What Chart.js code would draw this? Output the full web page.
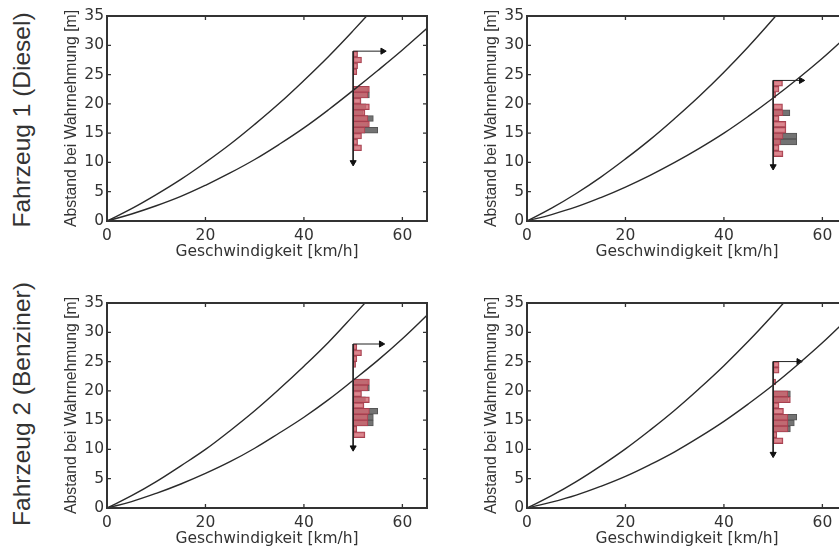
<!DOCTYPE html>
<html>
<head>
<meta charset="utf-8">
<script src="https://cdn.jsdelivr.net/npm/chart.js@4.4.1/dist/chart.umd.min.js"></script>
<style>
  body { margin: 0; width: 839px; height: 546px; overflow: hidden; background: #fff; position: relative; }
  .panel { position: absolute; }
  .rowlabel {
    position: absolute; white-space: nowrap; color: #333;
    font-family: "Liberation Sans", Arial, sans-serif; font-size: 24.5px;
    transform: translate(-50%, -50%) rotate(-90deg);
  }
</style>
</head>
<body>
<div class="rowlabel" style="left:22px; top:120px">Fahrzeug 1 (Diesel)</div>
<div class="rowlabel" style="left:22px; top:404px">Fahrzeug 2 (Benziner)</div>
<canvas class="panel" id="c1" width="387" height="270" style="left:50px; top:0px"></canvas>
<canvas class="panel" id="c2" width="387" height="270" style="left:470px; top:0px"></canvas>
<canvas class="panel" id="c3" width="387" height="270" style="left:50px; top:287px"></canvas>
<canvas class="panel" id="c4" width="387" height="270" style="left:470px; top:287px"></canvas>
<script>
// speeds [km/h] at which the curves were read
const speeds = [0, 5, 10, 15, 20, 25, 30, 35, 40, 45, 50, 55, 60, 65];
const xTicks = [0, 20, 40, 60];
const yTicks = [0, 5, 10, 15, 20, 25, 30, 35];

// distance curves [m]
const upper1 = [0, 2.1, 4.5, 7.1, 10.0, 13.1, 16.5, 20.1, 24.0, 28.1, 32.5, 37.1, 42, 47];
const lower1 = [0, 1.2, 2.6, 4.2, 6.1, 8.2, 10.5, 13.1, 15.9, 19.0, 22.3, 25.7, 29.2, 32.9];
const upper2 = [0, 2.2, 4.7, 7.5, 10.6, 13.9, 17.5, 21.3, 25.4, 29.8, 34.5, 39.4, 44, 49];
const lower2 = [0, 1.1, 2.4, 4.0, 5.8, 7.8, 10.0, 12.4, 15.0, 17.9, 21.0, 24.3, 27.8, 31.6];
const upper3 = [0, 2.1, 4.5, 7.2, 10.0, 13.2, 16.6, 20.3, 24.2, 28.3, 32.8, 37.4, 42, 47];
const lower3 = [0, 1.1, 2.5, 4.1, 5.9, 7.9, 10.2, 12.8, 15.5, 18.5, 21.8, 25.2, 28.9, 32.9];
const upper4 = [0, 2.1, 4.5, 7.2, 10.1, 13.3, 16.7, 20.4, 24.3, 28.5, 33.0, 37.7, 42, 47];
const lower4 = [0, 1.0, 2.2, 3.7, 5.4, 7.4, 9.6, 12.1, 14.8, 17.8, 21.0, 24.5, 28.2, 32.2];

// histogram bins (distance [m], 1 m wide) and bar lengths
const binCenters = [11.5, 12.5, 13.5, 14.5, 15.5, 16.5, 17.5, 18.5, 19.5, 20.5, 21.5, 22.5, 23.5, 24.5, 25.5, 26.5, 27.5, 28.5];
const red1  = [0, 1.7, 0.9, 1.7, 2.4, 3.3, 3.0, 2.4, 3.3, 1.6, 3.0, 3.3, 0, 0, 0.75, 0.9, 1.7, 0.9];
const gray1 = [0, 0, 0, 0, 5.0, 3.0, 4.1, 2.0, 2.6, 0, 3.3, 3.0, 0, 0, 0, 0, 0, 0];
const red2  = [2.0, 1.2, 1.5, 2.0, 2.6, 2.6, 1.2, 2.0, 1.9, 0, 0.5, 1.2, 1.9, 0, 0, 0, 0, 0];
const gray2 = [0, 0, 4.8, 4.8, 0, 0, 0, 3.4, 0, 0, 0, 0, 0, 0, 0, 0, 0, 0];
const red3  = [0, 2.4, 0.75, 3.0, 3.0, 3.3, 2.2, 3.3, 1.7, 3.0, 3.3, 0, 0, 0.5, 0.75, 1.7, 0.75, 0];
const gray3 = [0, 0, 0, 4.1, 4.1, 5.0, 0, 2.5, 0, 3.3, 3.0, 0, 0, 0, 0, 0, 0, 0];
const red4  = [2.0, 0.75, 3.0, 3.0, 3.0, 2.1, 1.2, 3.5, 3.0, 0, 0.5, 0, 1.2, 1.2, 0, 0, 0, 0];
const gray4 = [0, 0, 3.5, 4.3, 4.8, 0, 0, 3.0, 3.5, 0, 0, 0, 0, 0, 0, 0, 0, 0];

// histogram axis: [base speed, top, bottom arrow end, right arrow end]
const axis1 = [50, 29, 10.0, 56.0];
const axis2 = [50, 24, 9.3, 55.7];
const axis3 = [50, 28, 10.3, 55.7];
const axis4 = [50, 25, 9.2, 55.2];

const boxTicks = {
  id: 'boxTicks',
  afterDatasetsDraw(chart) {
    const { ctx, chartArea: a, scales: { x, y } } = chart;
    ctx.save();
    ctx.strokeStyle = '#333';
    ctx.lineWidth = 1.3;
    ctx.beginPath();
    x.ticks.forEach(t => {
      const px = x.getPixelForValue(t.value);
      ctx.moveTo(px, a.bottom); ctx.lineTo(px, a.bottom - 4);
      ctx.moveTo(px, a.top); ctx.lineTo(px, a.top + 4);
    });
    y.ticks.forEach(t => {
      const py = y.getPixelForValue(t.value);
      ctx.moveTo(a.left, py); ctx.lineTo(a.left + 4, py);
      ctx.moveTo(a.right, py); ctx.lineTo(a.right - 4, py);
    });
    ctx.stroke();
    ctx.lineWidth = 2;
    ctx.strokeRect(a.left, a.top, a.width, a.height);
    ctx.restore();
  }
};

function curve(vals) {
  return {
    type: 'line',
    data: speeds.map((v, i) => ({ x: v, y: vals[i] })),
    borderColor: '#2a2a2a',
    borderWidth: 1.4,
    pointRadius: 0,
    tension: 0.4,
    order: 0
  };
}

function bars(vals, fill, border, order) {
  return {
    type: 'bar',
    indexAxis: 'y',
    grouped: false,
    data: binCenters.map((c, i) => ({ y: c, x: [50, 50 + vals[i]] })).filter((d, i) => vals[i] > 0),
    backgroundColor: fill,
    borderColor: border,
    borderWidth: 1,
    borderSkipped: false,
    barPercentage: 1,
    categoryPercentage: 1,
    order: order
  };
}

function arrow(from, to, rot) {
  return {
    type: 'line',
    data: [from, to],
    borderColor: '#222',
    borderWidth: 1,
    pointRadius: [0, 3.5],
    pointStyle: 'triangle',
    rotation: rot,
    pointBackgroundColor: '#111',
    pointBorderColor: '#111',
    order: 1
  };
}

function panel(id, upper, lower, red, gray, ax) {
  const tickFont = { family: 'DejaVu Sans', size: 15.5 };
  new Chart(document.getElementById(id), {
    type: 'line',
    data: {
      datasets: [
        curve(upper),
        curve(lower),
        arrow({ x: ax[0], y: ax[1] }, { x: ax[0], y: ax[2] }, 180),
        arrow({ x: ax[0], y: ax[1] }, { x: ax[3], y: ax[1] }, 90),
        bars(red, 'rgba(210,105,115,0.8)', 'rgb(165,65,80)', 2),
        bars(gray, 'rgb(115,115,115)', 'rgb(85,85,85)', 3)
      ]
    },
    options: {
      responsive: false,
      animation: false,
      layout: { padding: { top: 16, right: 10, bottom: 4, left: 0 } },
      plugins: { legend: { display: false }, tooltip: { enabled: false } },
      scales: {
        x: {
          type: 'linear', min: 0, max: 65, offset: false,
          afterBuildTicks: s => { s.ticks = xTicks.map(v => ({ value: v })); },
          afterFit: s => { s.height = 45; },
          grid: { display: false, drawTicks: false, offset: false },
          border: { display: false },
          ticks: { color: '#333', font: tickFont, padding: 6, maxRotation: 0 },
          title: { display: true, text: 'Geschwindigkeit [km/h]', color: '#333',
                   font: { family: 'DejaVu Sans', size: 15.5 }, padding: { top: 0, bottom: 5 } }
        },
        y: {
          type: 'linear', min: 0, max: 35, offset: false,
          afterBuildTicks: s => { s.ticks = yTicks.map(v => ({ value: v })); },
          afterFit: s => { s.width = 57; },
          grid: { display: false, drawTicks: false, offset: false },
          border: { display: false },
          ticks: { color: '#333', font: tickFont, padding: 3 },
          title: { display: true, text: 'Abstand bei Wahrnehmung [m]', color: '#333',
                   font: { family: 'Liberation Sans', size: 15.8 }, padding: { top: 12, bottom: 0 } }
        }
      }
    },
    plugins: [boxTicks]
  });
}

panel('c1', upper1, lower1, red1, gray1, axis1);
panel('c2', upper2, lower2, red2, gray2, axis2);
panel('c3', upper3, lower3, red3, gray3, axis3);
panel('c4', upper4, lower4, red4, gray4, axis4);
</script>
</body>
</html>
